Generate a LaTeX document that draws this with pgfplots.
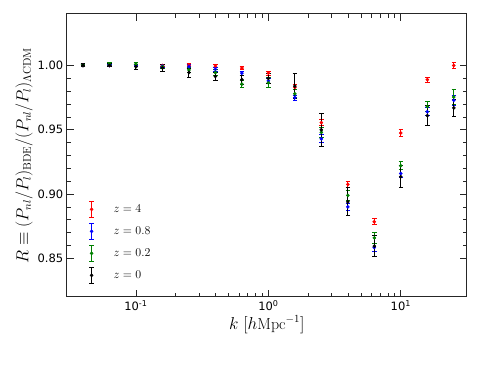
\documentclass[border=0pt]{standalone}
\usepackage{fontspec}
\newfontfamily\dejavu{DejaVu Sans}
\usepackage{pgfplots}
\usepackage{pgfplotstable}
\pgfplotsset{compat=1.18}

% k  R  err   (z = 4)
\pgfplotstableread{
k r e
0.0398 1.0000 0.0010
0.0631 1.0000 0.0010
0.1000 1.0000 0.0010
0.1585 1.0000 0.0010
0.2512 1.0000 0.0012
0.3981 0.9995 0.0012
0.6310 0.9980 0.0015
1.0000 0.9940 0.0015
1.5849 0.9830 0.0020
2.5119 0.9555 0.0025
3.9811 0.9075 0.0020
6.3096 0.8785 0.0022
10.000 0.9475 0.0030
15.849 0.9890 0.0020
25.119 1.0000 0.0025
}\zfour
% z = 0.8
\pgfplotstableread{
k r e
0.0398 1.0000 0.0010
0.0631 1.0000 0.0010
0.1000 1.0000 0.0010
0.1585 0.9995 0.0012
0.2512 0.9990 0.0015
0.3981 0.9970 0.0015
0.6310 0.9940 0.0015
1.0000 0.9880 0.0020
1.5849 0.9750 0.0020
2.5119 0.9430 0.0030
3.9811 0.8900 0.0030
6.3096 0.8585 0.0030
10.000 0.9160 0.0030
15.849 0.9640 0.0030
25.119 0.9730 0.0040
}\zeight
% z = 0.2
\pgfplotstableread{
k r e
0.0398 1.0000 0.0010
0.0631 1.0010 0.0010
0.1000 1.0010 0.0012
0.1585 0.9990 0.0015
0.2512 0.9965 0.0020
0.3981 0.9945 0.0020
0.6310 0.9855 0.0030
1.0000 0.9865 0.0040
1.5849 0.9780 0.0030
2.5119 0.9480 0.0040
3.9811 0.8990 0.0040
6.3096 0.8660 0.0045
10.000 0.9220 0.0030
15.849 0.9680 0.0040
25.119 0.9755 0.0060
}\ztwo
% z = 0
\pgfplotstableread{
k r e
0.0398 1.0000 0.0012
0.0631 1.0000 0.0012
0.1000 0.9990 0.0020
0.1585 0.9980 0.0030
0.2512 0.9945 0.0035
0.3981 0.9915 0.0030
0.6310 0.9890 0.0035
1.0000 0.9900 0.0040
1.5849 0.9840 0.0095
2.5119 0.9500 0.0130
3.9811 0.8940 0.0110
6.3096 0.8595 0.0083
10.000 0.9135 0.0084
15.849 0.9610 0.0080
25.119 0.9670 0.0065
}\zzero

\definecolor{mplgreen}{rgb}{0,0.5,0}

\pgfplotsset{
    ebar/.style={
        color=#1, only marks, mark=*, mark size=1.6pt,
        mark options={fill=#1, draw=#1},
        error bars/.cd, y dir=both, y explicit,
        error bar style={line width=1pt, color=#1},
        error mark options={line width=1pt, mark size=2.2pt, rotate=90, color=#1},
        /pgfplots/.cd,
        legend image code/.code={
            \draw[#1, line width=1pt] (0pt,-8pt) -- (0pt,8pt);
            \draw[#1, line width=1pt] (-2.2pt,-8pt) -- (2.2pt,-8pt);
            \draw[#1, line width=1pt] (-2.2pt,8pt) -- (2.2pt,8pt);
            \fill[#1] (0pt,0pt) circle (1.6pt);
            \path[draw=none, fill=none] (0pt,0pt) rectangle (20pt,0.1pt);
        },
    },
}

\begin{document}
\begin{tikzpicture}
\path[use as bounding box] (-66.7pt,-72pt) rectangle (413.3pt,297pt);
\begin{axis}[
    at={(0,0)}, anchor=south west,
    scale only axis,
    width=400.3pt, height=283pt,
    xmode=log,
    xmin=0.03, xmax=31.6,
    ymin=0.82, ymax=1.04,
    xtick={0.1,1,10},
    xticklabels={10\textsuperscript{-1},10\textsuperscript{0},10\textsuperscript{1}},
    ytick={0.85,0.90,0.95,1.00},
    minor y tick num=4,
    tick align=inside,
    major tick length=7pt,
    minor tick length=4pt,
    axis line style={line width=1pt, black!85},
    every tick/.style={black!85, line width=0.8pt},
    tick label style={font=\dejavu\fontsize{11.5}{13}\selectfont},
    /pgf/number format/assume math mode=true,
    yticklabel style={/pgf/number format/.cd, fixed, fixed zerofill, precision=2},
    xlabel={$k\ [h\mathrm{Mpc}^{-1}]$},
    ylabel={$R\equiv(P_{nl}/P_l)_{\mathrm{BDE}}/(P_{nl}/P_l)_{\Lambda\mathrm{CDM}}$},
    label style={font=\fontsize{16}{19}\selectfont},
    xlabel style={yshift=2pt},
    ylabel style={yshift=-2pt},
    legend style={draw=none, fill=none,
        at={(axis description cs:0,0)}, anchor=south west,
        xshift=19pt, yshift=11pt, row sep=5pt,
        font=\fontsize{12}{14}\selectfont},
    legend cell align=left,
]
\addplot[ebar=red] table[x=k, y=r, y error=e] {\zfour};
\addlegendentry{$z=4$}
\addplot[ebar=blue] table[x=k, y=r, y error=e] {\zeight};
\addlegendentry{$z=0.8$}
\addplot[ebar=mplgreen] table[x=k, y=r, y error=e] {\ztwo};
\addlegendentry{$z=0.2$}
\addplot[ebar=black] table[x=k, y=r, y error=e] {\zzero};
\addlegendentry{$z=0$}
\end{axis}
\end{tikzpicture}
\end{document}
